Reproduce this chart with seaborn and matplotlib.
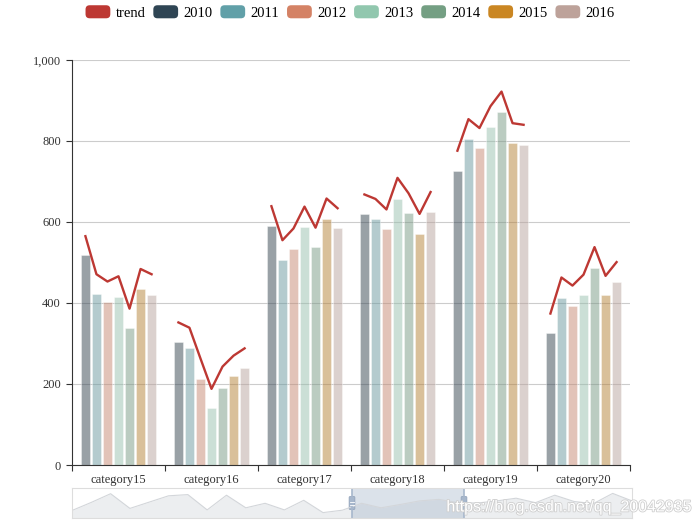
import numpy as np
import pandas as pd
import matplotlib
matplotlib.use('Agg')
import matplotlib.pyplot as plt
import matplotlib.patheffects as pe
import seaborn as sns
from matplotlib.patches import Patch, FancyBboxPatch
from matplotlib.legend_handler import HandlerPatch
from matplotlib.ticker import FuncFormatter, FixedLocator

# ---- data ----
categories = ['category15', 'category16', 'category17', 'category18', 'category19', 'category20']
years = ['2010', '2011', '2012', '2013', '2014', '2015', '2016']

v2010 = [518, 303, 589, 619, 727, 325]
v2011 = [422, 289, 506, 607, 805, 413]
v2012 = [403, 212, 534, 583, 783, 393]
v2013 = [415, 140, 587, 658, 835, 420]
v2014 = [339, 190, 538, 622, 872, 486]
v2015 = [434, 220, 608, 571, 794, 419]
v2016 = [420, 239, 584, 625, 791, 453]

# trend line: one point per bar
trend15 = [565, 471, 453, 466, 386, 484, 471]
trend16 = [352, 339, 263, 188, 243, 270, 288]
trend17 = [639, 555, 584, 638, 586, 658, 634]
trend18 = [668, 657, 631, 709, 671, 620, 674]
trend19 = [776, 854, 832, 886, 922, 844, 840]
trend20 = [374, 463, 443, 470, 538, 467, 501]

# dataZoom overview shadow (30 categories) and the visible window (percent)
shadow = [25, 52, 81, 32, 53, 74, 78, 27, 76, 34, 49, 27, 59, 18, 26,
          49, 34, 45, 57, 62, 51, 50, 57, 66, 51, 76, 55, 48, 82, 57]
zoom_start, zoom_end = 50, 70

colors = ['#2f4554', '#61a0a8', '#d48265', '#91c7ae', '#749f83', '#ca8622', '#bda29a']
trend_color = '#bd3833'

bar_df = pd.DataFrame({'category': np.repeat(categories, len(years)),
                       'year': np.tile(years, len(categories))})
bar_df['value'] = np.array([v2010, v2011, v2012, v2013, v2014, v2015, v2016]).T.ravel()

group_width = 0.83
slot = group_width / len(years)
trend_df = pd.DataFrame({'category': np.repeat(categories, len(years)),
                         'value': np.concatenate([trend15, trend16, trend17, trend18, trend19, trend20])})
trend_df['xpos'] = (np.repeat(np.arange(len(categories)), len(years))
                    + np.tile((np.arange(len(years)) - 3) * slot, len(categories)))

plt.rcParams['font.family'] = ['Liberation Serif', 'DejaVu Serif']

fig = plt.figure(figsize=(7, 5.25), dpi=100)
ax = fig.add_axes([72/700, 1 - 465/525, 558/700, 405/525])

sns.barplot(data=bar_df, x='category', y='value', hue='year', palette=colors,
            width=group_width, gap=0.22, alpha=0.5, edgecolor='white', linewidth=0.5,
            legend=False, ax=ax, zorder=2)
sns.lineplot(data=trend_df, x='xpos', y='value', units='category', estimator=None,
             color=trend_color, linewidth=1.7, ax=ax, zorder=3)

ax.set_xlim(-0.5, len(categories) - 0.5)
ax.set_ylim(0, 1000)
ax.set_xlabel('')
ax.set_ylabel('')
ax.yaxis.set_major_locator(FixedLocator([0, 200, 400, 600, 800, 1000]))
ax.yaxis.set_major_formatter(FuncFormatter(lambda v, p: f'{int(v):,}'))
ax.grid(axis='y', color='#cccccc', linewidth=0.8, zorder=0)
ax.set_axisbelow(True)

# category boundary ticks, labels in the middle
ax.set_xticks(np.arange(len(categories) + 1) - 0.5)
ax.set_xticklabels([])
ax.set_xticks(np.arange(len(categories)), minor=True)
ax.set_xticklabels(categories, minor=True)
ax.tick_params(axis='x', which='major', length=4, width=0.8, color='#333333')
ax.tick_params(axis='x', which='minor', length=0, pad=6.5, labelsize=9, labelcolor='#333333')
ax.tick_params(axis='y', length=4, width=0.8, color='#333333', pad=4, labelsize=9, labelcolor='#333333')
for s in ['top', 'right']:
    ax.spines[s].set_visible(False)
for s in ['left', 'bottom']:
    ax.spines[s].set_color('#333333')
    ax.spines[s].set_linewidth(0.8)


# ---- legend with rounded markers ----
class RoundHandler(HandlerPatch):
    def create_artists(self, legend, orig_handle, xdescent, ydescent, width, height, fontsize, trans):
        p = FancyBboxPatch((-xdescent, -ydescent), width, height,
                           boxstyle='round,pad=0,rounding_size=3',
                           facecolor=orig_handle.get_facecolor(), edgecolor='none', transform=trans)
        return [p]


handles = [Patch(facecolor=trend_color, label='trend')]
handles += [Patch(facecolor=c, label=y) for c, y in zip(colors, years)]
fig.legend(handles=handles, loc='center', bbox_to_anchor=(0.5, 1 - 12.5/525), ncol=8,
           frameon=False, fontsize=10.5, handlelength=1.7, handleheight=1.0,
           handletextpad=0.35, columnspacing=0.55,
           handler_map={Patch: RoundHandler()})

# ---- dataZoom slider ----
sl = fig.add_axes([72/700, 1 - 518/525, 560/700, 30/525])
idx = np.arange(len(shadow))
sl.set_xlim(0, len(shadow) - 1)
sl.set_ylim(0, 100)
sl.fill_between(idx, 0, shadow, color='#eceef0', linewidth=0)
sl.plot(idx, shadow, color='#d3d6da', linewidth=0.8)
x0 = zoom_start / 100 * (len(shadow) - 1)
x1 = zoom_end / 100 * (len(shadow) - 1)
sl.axvspan(x0, x1, color='#a7b7cc', alpha=0.4, linewidth=0)
for xv in (x0, x1):
    sl.axvline(xv, color='#a7b7cc', linewidth=1.2)
    sl.add_patch(FancyBboxPatch((xv - 0.15, 28), 0.3, 44, boxstyle='round,pad=0,rounding_size=0.1',
                                facecolor='#a7b7cc', edgecolor='#8fa0b8', linewidth=0.5,
                                mutation_aspect=30))
    sl.plot([xv - 0.09, xv + 0.09], [45, 45], color='white', linewidth=0.6)
    sl.plot([xv - 0.09, xv + 0.09], [55, 55], color='white', linewidth=0.6)
sl.set_xticks([])
sl.set_yticks([])
for s in sl.spines.values():
    s.set_color('#dddddd')
    s.set_linewidth(0.8)

fig.text(692/700, 1 - 507/525, 'https://blog.csdn.net/qq_20042935', ha='right', va='center',
         fontsize=11.5, color='white', family=['Liberation Sans', 'DejaVu Sans'], zorder=10,
         path_effects=[pe.withStroke(linewidth=1.2, foreground='#cfcfcf')])

fig.savefig('out.png', dpi=100)
